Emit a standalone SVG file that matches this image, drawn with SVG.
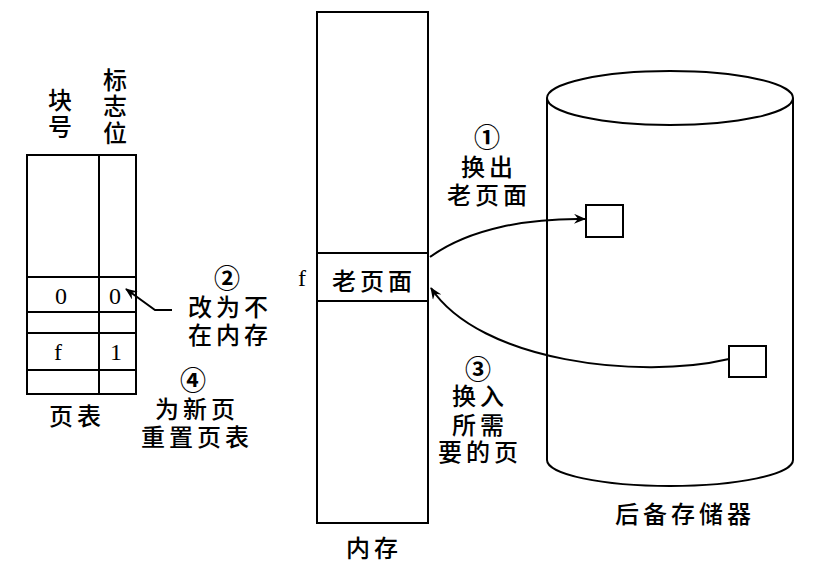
<svg xmlns="http://www.w3.org/2000/svg" width="816" height="571" viewBox="0 0 816 571">
<style>
.ln{fill:none;stroke:#000;stroke-width:2}
.bx{fill:#fff;stroke:#000;stroke-width:2}
.t{font-family:"Noto Sans CJK SC","Noto Sans CJK JP",sans-serif;font-size:24px;font-weight:500;letter-spacing:4px;fill:#000;text-anchor:middle;dominant-baseline:central}
.c{font-size:26px;font-weight:700;letter-spacing:0}
.s{font-family:"Liberation Serif",serif;font-size:24px;fill:#000;text-anchor:middle;dominant-baseline:central}
</style>
<defs>
<marker id="ah" viewBox="0 0 12 10" refX="11" refY="5" markerWidth="12" markerHeight="10" markerUnits="userSpaceOnUse" orient="auto">
<path d="M0,0 L12,5 L0,10 L4,5 Z" fill="#000"/>
</marker>
</defs>
<rect width="816" height="571" fill="#fff"/>
<g id="pagetable">
<rect class="bx" x="27" y="155" width="109" height="239"/>
<line class="ln" x1="99" y1="155" x2="99" y2="394"/>
<line class="ln" x1="27" y1="277" x2="136" y2="277"/>
<line class="ln" x1="27" y1="312" x2="136" y2="312"/>
<line class="ln" x1="27" y1="333" x2="136" y2="333"/>
<line class="ln" x1="27" y1="370" x2="136" y2="370"/>
<text class="s" x="61" y="296">0</text>
<text class="s" x="115" y="296">0</text>
<text class="s" x="58" y="352">f</text>
<text class="s" x="116" y="352">1</text>
<text class="t"><tspan x="62" y="98">块</tspan><tspan x="62" y="125">号</tspan></text>
<text class="t"><tspan x="117" y="78">标</tspan><tspan x="117" y="104">志</tspan><tspan x="117" y="131">位</tspan></text>
<text class="t" x="77" y="414">页表</text>
</g>
<g id="memory">
<rect class="bx" x="317" y="12" width="111" height="511"/>
<line class="ln" x1="317" y1="253" x2="428" y2="253"/>
<line class="ln" x1="317" y1="301" x2="428" y2="301"/>
<text class="t" x="374" y="279">老页面</text>
<text class="s" x="302" y="278">f</text>
<text class="t" x="374" y="546">内存</text>
</g>
<g id="backing">
<path class="ln" d="M547,98 L547,460 A123,26 0 0 0 793,460 L793,98"/>
<ellipse class="ln" cx="670" cy="98" rx="123" ry="27"/>
<rect class="bx" x="586" y="205" width="37" height="32"/>
<rect class="bx" x="729" y="346" width="37" height="31"/>
<text class="t" x="685" y="512">后备存储器</text>
</g>
<g id="labels">
<text class="t"><tspan class="c" x="487" y="135">①</tspan><tspan x="489" y="165">换出</tspan><tspan x="489" y="193">老页面</tspan></text>
<text class="t"><tspan class="c" x="478" y="367">③</tspan><tspan x="480" y="394">换入</tspan><tspan x="480" y="423">所需</tspan><tspan x="480" y="450">要的页</tspan></text>
<text class="t"><tspan class="c" x="227" y="276">②</tspan><tspan x="230" y="305">改为不</tspan><tspan x="230" y="333">在内存</tspan></text>
<text class="t"><tspan class="c" x="193" y="378">④</tspan><tspan x="197" y="407">为新页</tspan><tspan x="197" y="435">重置页表</tspan></text>
</g>
<g id="connectors">
<path class="ln" d="M430,257 C470,228 530,218 585,219" marker-end="url(#ah)"/>
<path class="ln" d="M729,359 C640,380 480,362 431,288" marker-end="url(#ah)"/>
<path class="ln" d="M172,310 L155,310 L126,289" marker-end="url(#ah)"/>
</g>
</svg>
